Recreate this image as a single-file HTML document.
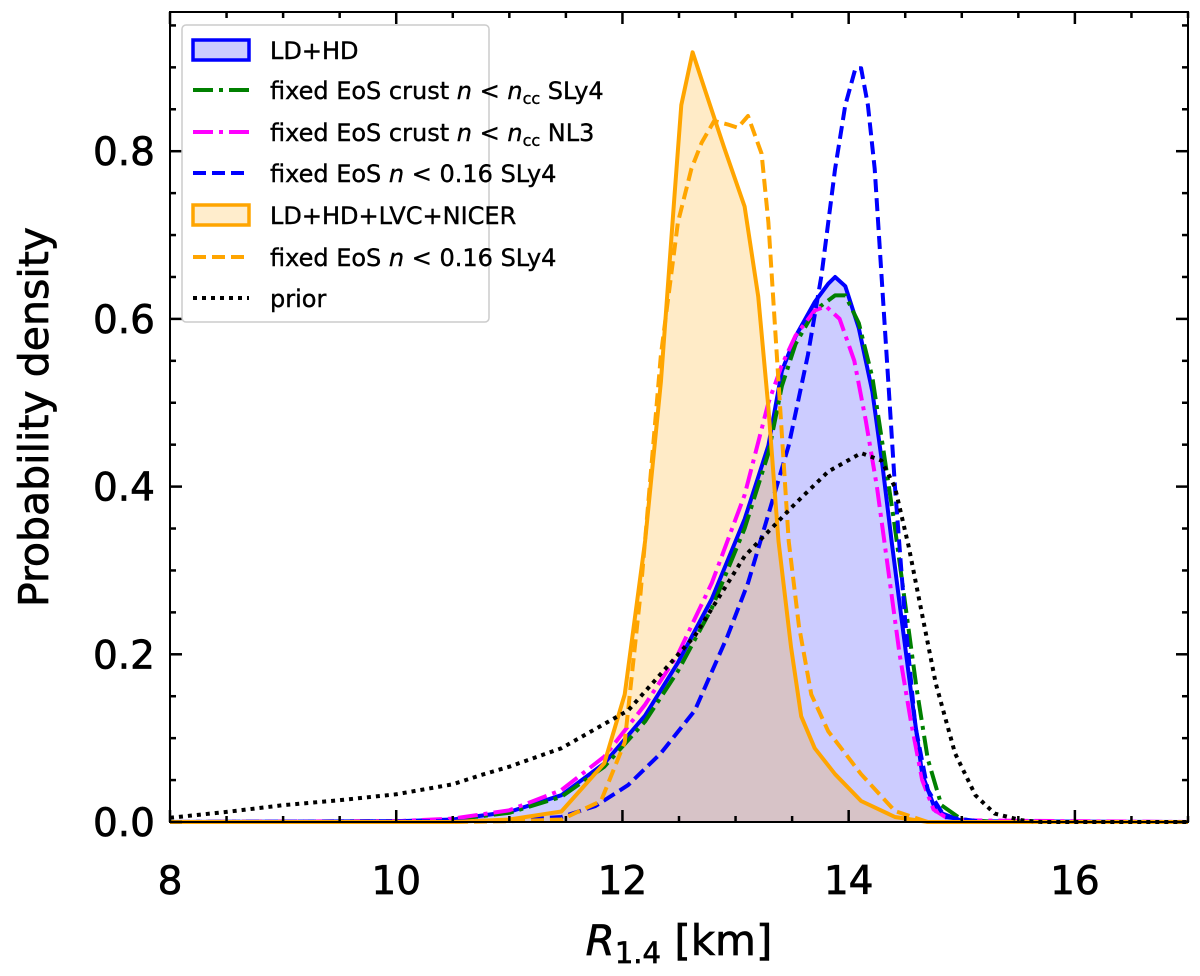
<!DOCTYPE html>
<html><head><meta charset="utf-8"><style>
body{margin:0;background:#fff;}
svg text{font-family:"DejaVu Sans","Liberation Sans",sans-serif;}
.heavy{stroke:#000;stroke-width:0.7;}
</style></head><body>
<svg id="chart" width="1200" height="971" viewBox="0 0 1200 971" xmlns="http://www.w3.org/2000/svg">
<rect width="1200" height="971" fill="#fff"/>
<g id="marks"></g>
<g id="axes"></g>
<text class="heavy" x="679" y="955" font-size="42" text-anchor="middle"><tspan font-style="italic">R</tspan><tspan font-size="29" dy="8">1.4</tspan><tspan dy="-8"> [km]</tspan></text>
<text class="heavy" transform="translate(48,417) rotate(-90)" font-size="41" text-anchor="middle">Probability density</text>
<g>
<rect x="182" y="25" width="307" height="297" rx="4" fill="#fff" fill-opacity="0.85" stroke="#ccc" stroke-width="1.5"/>
<g font-size="24" class="heavy" style="stroke-width:0.4">
<rect x="193" y="40" width="56" height="20" fill="rgba(0,0,255,0.2)" stroke="#0000ff" stroke-width="3.5"/>
<text x="270" y="59">LD+HD</text>
<line x1="193" y1="90" x2="249" y2="90" stroke="#008000" stroke-width="4" stroke-dasharray="20,6,4,6"/>
<text x="270" y="99">fixed EoS crust <tspan font-style="italic">n</tspan> &lt; <tspan font-style="italic">n</tspan><tspan font-size="16" dy="5">cc</tspan><tspan dy="-5"> SLy4</tspan></text>
<line x1="193" y1="132" x2="249" y2="132" stroke="#ff00ff" stroke-width="4" stroke-dasharray="20,6,4,6"/>
<text x="270" y="141">fixed EoS crust <tspan font-style="italic">n</tspan> &lt; <tspan font-style="italic">n</tspan><tspan font-size="16" dy="5">cc</tspan><tspan dy="-5"> NL3</tspan></text>
<line x1="193" y1="173" x2="249" y2="173" stroke="#0000ff" stroke-width="4" stroke-dasharray="13,6"/>
<text x="270" y="182">fixed EoS <tspan font-style="italic">n</tspan> &lt; 0.16 SLy4</text>
<rect x="193" y="205" width="56" height="20" fill="rgba(255,165,0,0.2)" stroke="#ffa500" stroke-width="3.5"/>
<text x="270" y="224">LD+HD+LVC+NICER</text>
<line x1="193" y1="257" x2="249" y2="257" stroke="#ffa500" stroke-width="4" stroke-dasharray="13,6"/>
<text x="270" y="266">fixed EoS <tspan font-style="italic">n</tspan> &lt; 0.16 SLy4</text>
<line x1="193" y1="298" x2="249" y2="298" stroke="#000" stroke-width="4" stroke-dasharray="4,5"/>
<text x="270" y="307">prior</text>
</g></g>
</svg>
<script>
const ldhdX=[8,10,10.5,11,11.46,11.84,12.2,12.49,12.79,13.08,13.29,13.41,13.53,13.7,13.82,13.88,13.97,14.09,14.21,14.3,14.38,14.47,14.56,14.65,14.77,15.01,17];
const ldhdY=[0,0.001,0.003,0.012,0.032,0.07,0.127,0.19,0.266,0.361,0.449,0.538,0.579,0.62,0.642,0.65,0.639,0.589,0.513,0.424,0.335,0.24,0.146,0.057,0.013,0.001,0];
const slyX=[8,10,10.5,11,11.46,11.84,12.2,12.49,12.79,13.08,13.29,13.41,13.53,13.7,13.88,13.97,14.09,14.21,14.3,14.4,14.5,14.6,14.7,14.82,15,15.3,17];
const slyY=[0,0.001,0.003,0.011,0.03,0.066,0.12,0.18,0.255,0.35,0.44,0.52,0.57,0.61,0.628,0.628,0.595,0.53,0.45,0.36,0.26,0.16,0.075,0.02,0.003,0,0];
const nl3X=[8,10,10.5,11,11.46,11.84,12.2,12.49,12.79,13.08,13.29,13.41,13.53,13.7,13.8,13.92,14.05,14.15,14.25,14.35,14.45,14.55,14.65,14.75,14.9,17];
const nl3Y=[0,0.001,0.004,0.014,0.038,0.078,0.14,0.2,0.285,0.39,0.5,0.545,0.58,0.61,0.615,0.6,0.55,0.48,0.4,0.3,0.2,0.12,0.05,0.015,0.002,0];
const bdX=[8,10.5,11,11.46,11.76,12.05,12.34,12.64,12.93,13.11,13.29,13.47,13.64,13.76,13.88,13.97,14.06,14.11,14.17,14.23,14.29,14.35,14.41,14.5,14.59,14.7,14.85,15.2,17];
const bdY=[0,0.001,0.002,0.006,0.019,0.044,0.082,0.133,0.222,0.285,0.367,0.449,0.557,0.652,0.779,0.855,0.899,0.899,0.855,0.779,0.652,0.525,0.399,0.24,0.114,0.038,0.006,0,0];
const nicerX=[8,10.5,11,11.46,11.84,12.02,12.2,12.34,12.46,12.52,12.62,12.73,12.9,13.08,13.2,13.29,13.38,13.49,13.58,13.7,13.88,14.11,14.41,14.7,17];
const nicerY=[0,0,0.003,0.0125,0.07,0.152,0.335,0.525,0.747,0.855,0.918,0.873,0.804,0.734,0.627,0.494,0.335,0.209,0.126,0.088,0.057,0.025,0.006,0,0];
const odX=[8,10.5,11,11.46,11.81,12.02,12.16,12.34,12.49,12.61,12.7,12.81,12.93,13.02,13.11,13.23,13.29,13.38,13.47,13.56,13.67,13.82,14.11,14.41,14.7,17];
const odY=[0,0,0.001,0.003,0.025,0.095,0.272,0.557,0.715,0.779,0.81,0.836,0.832,0.828,0.842,0.797,0.715,0.525,0.335,0.234,0.152,0.108,0.057,0.013,0,0];
const priorX=[8,8.5,9,9.5,10,10.5,10.75,11,11.46,12.05,12.64,13.08,13.53,13.82,14.11,14.29,14.41,14.53,14.65,14.77,14.94,15.12,15.29,15.53,15.71,17];
const priorY=[0.005,0.012,0.02,0.026,0.033,0.045,0.056,0.066,0.088,0.133,0.222,0.317,0.38,0.418,0.44,0.431,0.399,0.329,0.247,0.165,0.082,0.032,0.01,0.002,0,0];
const xTicks=[8,10,12,14,16];
const yTicks=[0,0.2,0.4,0.6,0.8];
const yTickLabels=["0.0","0.2","0.4","0.6","0.8"];

const L=170,R=1188,T=12,B=822,XMIN=8,XMAX=17,YMAX=(B-T)/838.5;
const sx=v=>L+(v-XMIN)/(XMAX-XMIN)*(R-L);
const sy=v=>B-v/YMAX*(B-T);
const NS="http://www.w3.org/2000/svg";
const marks=document.getElementById('marks'),axes=document.getElementById('axes');
function pts(xs,ys){return xs.map((x,i)=>sx(x).toFixed(1)+','+sy(ys[i]).toFixed(1)).join(' ');}
function fill(xs,ys,color,name){
 const p=document.createElementNS(NS,'polygon');
 p.setAttribute('points',pts(xs,ys)+' '+sx(xs[xs.length-1])+','+sy(0)+' '+sx(xs[0])+','+sy(0));
 p.setAttribute('fill',color);
 
 
 marks.appendChild(p);}
function line(xs,ys,color,dash,name){
 const p=document.createElementNS(NS,'polyline');
 p.setAttribute('points',pts(xs,ys));
 p.setAttribute('fill','none');p.setAttribute('stroke',color);p.setAttribute('stroke-width','4');
 p.setAttribute('stroke-linejoin','round');
 if(dash)p.setAttribute('stroke-dasharray',dash);
 
 
 marks.appendChild(p);}
fill(ldhdX,ldhdY,'rgba(0,0,255,0.2)','ld-hd-fill');
fill(nicerX,nicerY,'rgba(255,165,0,0.22)','nicer-fill');
line(ldhdX,ldhdY,'#0000ff',null,'ld-hd-line');
line(slyX,slyY,'#008000','20,6,4,6','sly4-crust-line');
line(nl3X,nl3Y,'#ff00ff','20,6,4,6','nl3-crust-line');
line(bdX,bdY,'#0000ff','13,6','blue-dashed-line');
line(nicerX,nicerY,'#ffa500',null,'nicer-line');
line(odX,odY,'#ffa500','13,6','orange-dashed-line');
line(priorX,priorY,'#000','4,5','prior-line');
function ln(x1,y1,x2,y2,w,name){const l=document.createElementNS(NS,'line');
 l.setAttribute('x1',x1);l.setAttribute('y1',y1);l.setAttribute('x2',x2);l.setAttribute('y2',y2);
 l.setAttribute('stroke','#000');l.setAttribute('stroke-width',w);
 
 
 axes.appendChild(l);}
for(let v=8;v<=17.001;v+=0.5){const x=sx(v);const maj=Math.abs(v/2-Math.round(v/2))<1e-6;const len=maj?12:6;
 ln(x,B,x,B-len,2.5,'x-tick');ln(x,T,x,T+len,2.5,'x-tick-top');}
for(let v=0;v<=YMAX;v+=0.05){const y=sy(v);const maj=Math.abs(v/0.2-Math.round(v/0.2))<1e-6;const len=maj?12:6;
 ln(L,y,L+len,y,2.5,'y-tick');ln(R,y,R-len,y,2.5,'y-tick-right');}
const fr=document.createElementNS(NS,'rect');
fr.setAttribute('x',L);fr.setAttribute('y',T);fr.setAttribute('width',R-L);fr.setAttribute('height',B-T);
fr.setAttribute('fill','none');fr.setAttribute('stroke','#000');fr.setAttribute('stroke-width','2');


axes.appendChild(fr);
xTicks.forEach(v=>{const t=document.createElementNS(NS,'text');t.setAttribute('x',sx(v));t.setAttribute('y',894);
 t.setAttribute('font-size','39');t.setAttribute('text-anchor','middle');t.setAttribute('class','heavy');t.textContent=v;
 
 
 axes.appendChild(t);});
yTicks.forEach((v,i)=>{const t=document.createElementNS(NS,'text');t.setAttribute('x',155);t.setAttribute('y',sy(v)+14);
 t.setAttribute('font-size','39');t.setAttribute('text-anchor','end');t.setAttribute('class','heavy');t.textContent=yTickLabels[i];
 
 
 axes.appendChild(t);});
</script>
</body></html>
